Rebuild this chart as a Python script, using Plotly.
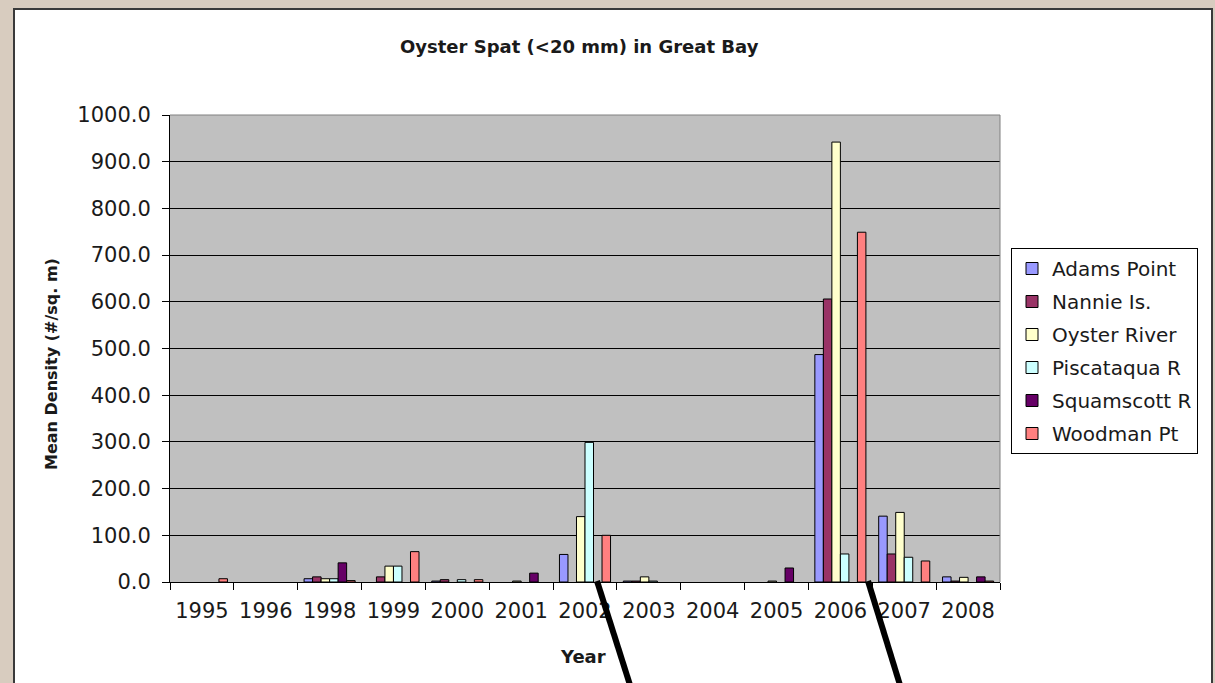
import plotly.graph_objects as go

years = ['1995', '1996', '1998', '1999', '2000', '2001', '2002',
         '2003', '2004', '2005', '2006', '2007', '2008']

# None = no bar shown for that site/year
adams_point = [None, None, 7, None, 2, None, 59, 2, None, None, 487, 141, 11]
nannie_is = [None, None, 11, 11, 5, None, None, 2, None, None, 606, 60, 2]
oyster_river = [None, None, 7, 34, None, 2, 140, 11, None, 2, 942, 149, 10]
piscataqua_r = [None, None, 7, 34, 5, None, 299, 2, None, None, 60, 53, None]
squamscott_r = [None, None, 41, None, None, 19, None, None, None, 30, None, None, 11]
woodman_pt = [7, None, 3, 65, 5, None, 100, None, None, None, 749, 45, 2]

series_names = ['Adams Point', 'Nannie Is.', 'Oyster River',
                'Piscataqua R', 'Squamscott R', 'Woodman Pt']
series_values = [adams_point, nannie_is, oyster_river,
                 piscataqua_r, squamscott_r, woodman_pt]
series_colors = ['#9999FF', '#993366', '#FFFFCC', '#CCFFFF', '#660066', '#FF8080']

W, H = 1215, 683
L, R, T, B = 170, 1000, 115, 582  # plot area in px


def px(x):
    return (x - L) / (R - L)


def py(y):
    return (B - y) / (B - T)


FONT = 'DejaVu Sans'
TXT = '#1a1a1a'

fig = go.Figure()
for name, vals, col in zip(series_names, series_values, series_colors):
    fig.add_trace(go.Bar(
        x=years, y=vals, name=name, legendgroup=name,
        marker=dict(color=col, line=dict(color='black', width=1)),
    ))

shapes = []
bg = '#d8ccbf'
# beige surroundings
shapes.append(dict(type='rect', xref='paper', yref='paper', x0=px(0), x1=px(13), y0=py(0), y1=py(H),
                   fillcolor=bg, line=dict(width=0), layer='above'))
shapes.append(dict(type='rect', xref='paper', yref='paper', x0=px(0), x1=px(W), y0=py(0), y1=py(8),
                   fillcolor=bg, line=dict(width=0), layer='above'))
shapes.append(dict(type='rect', xref='paper', yref='paper', x0=px(1213), x1=px(W), y0=py(0), y1=py(H),
                   fillcolor=bg, line=dict(width=0), layer='above'))
# chart border
shapes.append(dict(type='path', xref='paper', yref='paper',
                   path=f'M {px(14)},{py(H+5)} L {px(14)},{py(9)} L {px(1212)},{py(9)} L {px(1212)},{py(H+5)}',
                   line=dict(color='#3a3a3a', width=2), layer='above'))
# plot-area top and right border
shapes.append(dict(type='path', xref='paper', yref='paper',
                   path='M 0,1 L 1,1 L 1,0', line=dict(color='#808080', width=1), layer='above'))
# black annotation lines
shapes.append(dict(type='line', xref='paper', yref='paper', x0=px(597), y0=py(581), x1=px(630), y1=py(H + 2),
                   line=dict(color='black', width=6), layer='above'))
shapes.append(dict(type='line', xref='paper', yref='paper', x0=px(868), y0=py(581), x1=px(900), y1=py(H + 2),
                   line=dict(color='black', width=6), layer='above'))

annotations = [
    dict(text='<b>Oyster Spat (&lt;20 mm) in Great Bay</b>', x=px(579), y=py(46), xref='paper', yref='paper',
         showarrow=False, xanchor='center', yanchor='middle', font=dict(family=FONT, size=18, color=TXT)),
    dict(text='<b>Mean Density (#/sq. m)</b>', x=px(51), y=py(364), xref='paper', yref='paper',
         showarrow=False, textangle=-90, xanchor='center', yanchor='middle',
         font=dict(family=FONT, size=16, color=TXT)),
    dict(text='<b>Year</b>', x=px(583), y=py(656), xref='paper', yref='paper',
         showarrow=False, xanchor='center', yanchor='middle', font=dict(family=FONT, size=18, color=TXT)),
]

fig.update_layout(
    width=W, height=H,
    margin=dict(l=L, r=W - R, t=T, b=H - B, pad=0, autoexpand=False),
    paper_bgcolor='white', plot_bgcolor='#C0C0C0',
    barmode='group', bargap=0.2, bargroupgap=0,
    font=dict(family=FONT, size=21, color=TXT),
    showlegend=True,
    legend=dict(x=px(1011), y=py(248), xanchor='left', yanchor='top',
                bgcolor='white', bordercolor='black', borderwidth=1,
                font=dict(family=FONT, size=20, color=TXT),
                traceorder='grouped', tracegroupgap=4, itemwidth=30),
    shapes=shapes, annotations=annotations,
    xaxis=dict(type='category', tickson='boundaries', ticks='outside', ticklen=7, tickcolor='black',
               showline=True, linecolor='black', linewidth=1, showgrid=False,
               tickfont=dict(family=FONT, size=21, color=TXT), ticklabelstandoff=10),
    yaxis=dict(range=[0, 1000], dtick=100, tick0=0, tickformat='.1f', ticks='outside', ticklen=7,
               tickcolor='black', showline=True, linecolor='black', linewidth=1,
               showgrid=True, gridcolor='black', gridwidth=1, zeroline=False,
               tickfont=dict(family=FONT, size=21, color=TXT), ticklabelstandoff=7),
)

fig.write_html('out.html',
               config={'displayModeBar': False},
               post_script="document.body.style.margin='0';document.body.style.overflow='hidden';")
